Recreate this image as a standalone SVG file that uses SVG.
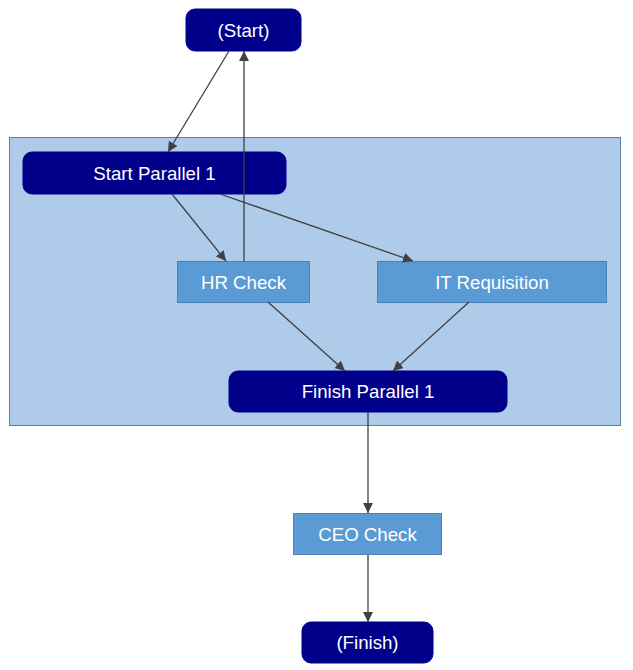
<svg xmlns="http://www.w3.org/2000/svg" width="633" height="670" viewBox="0 0 633 670">
<style>
.term{fill:#00008b;stroke:#00008b}
.task{fill:#5b9bd5;stroke:#4a80b5;stroke-width:1}
.lbl{font-family:"Liberation Sans",Arial,sans-serif;font-size:18.67px;fill:#ffffff;text-anchor:middle;dominant-baseline:central}
.edge{stroke:#404040;stroke-width:1.3;fill:none;marker-end:url(#arr)}
</style>
<defs>
<marker id="arr" viewBox="0 0 10 10" refX="10" refY="5" markerWidth="10" markerHeight="10" markerUnits="userSpaceOnUse" orient="auto">
<path d="M0,0 L10,5 L0,10 z" fill="#404040"/>
</marker>
</defs>
<rect width="633" height="670" fill="#ffffff"/>
<g id="cluster">
<rect x="9.5" y="137.5" width="611" height="288" fill="#aecbe9" stroke="#5f7f9f" stroke-width="1"/>
</g>
<g id="start"><rect class="term" x="186" y="9" width="115" height="42" rx="9"/><text class="lbl" x="243.5" y="30">(Start)</text></g>
<g id="startpar"><rect class="term" x="23" y="152" width="263" height="42" rx="9"/><text class="lbl" x="154.5" y="173">Start Parallel 1</text></g>
<g id="hr"><rect class="task" x="177.5" y="261.5" width="132" height="41"/><text class="lbl" x="243.5" y="282">HR Check</text></g>
<g id="it"><rect class="task" x="377.5" y="261.5" width="229" height="41"/><text class="lbl" x="492" y="282">IT Requisition</text></g>
<g id="finpar"><rect class="term" x="229" y="371" width="278" height="41" rx="9"/><text class="lbl" x="368" y="391.5">Finish Parallel 1</text></g>
<g id="ceo"><rect class="task" x="293.5" y="513.5" width="148" height="41"/><text class="lbl" x="367.5" y="534">CEO Check</text></g>
<g id="finish"><rect class="term" x="302" y="622" width="131" height="41" rx="9"/><text class="lbl" x="367.5" y="642.5">(Finish)</text></g>
<g id="connectors">
<path class="edge" d="M229,51 L168,152"/>
<path class="edge" d="M244,261 L244,51"/>
<path class="edge" d="M172,194 L226,261"/>
<path class="edge" d="M220,194 L413,261"/>
<path class="edge" d="M268,302 L345,371"/>
<path class="edge" d="M469,302 L393,371"/>
<path class="edge" d="M368,412 L368,513"/>
<path class="edge" d="M368,555 L368,622"/>
</g>
</svg>
